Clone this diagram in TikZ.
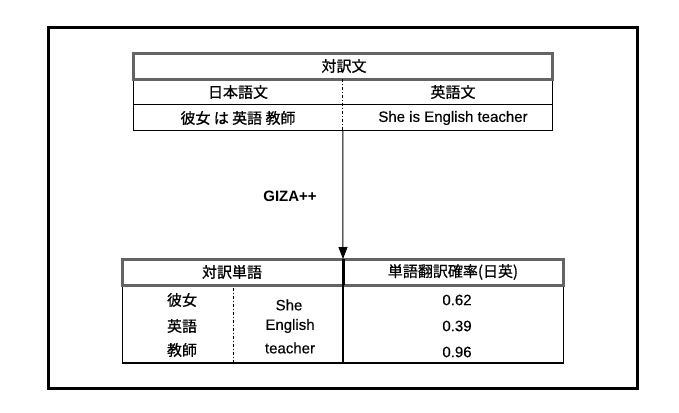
\documentclass[tikz,border=0pt]{standalone}
\usepackage{fontspec}
\setmainfont{Liberation Sans}[FakeBold=0.3]
\newfontfamily\jp{Noto Sans CJK JP}[FakeBold=0.8]
\newfontfamily\gizafont{Liberation Sans Bold}
\usetikzlibrary{arrows.meta}
\definecolor{hdgray}{HTML}{646464}
\begin{document}
\begin{tikzpicture}[x=1pt,y=-1pt,
  txt/.style={inner sep=0pt,font=\fontsize{15}{18}\selectfont},
  jtxt/.style={inner sep=0pt,font=\fontsize{15}{18}\selectfont\jp},
  headbox/.style={draw=hdgray,line width=3pt,inner sep=0pt,outer sep=0pt},
  bodybox/.style={draw=black,line width=1.2pt,inner sep=0pt,outer sep=0pt},
  divdash/.style={line width=1pt,dash pattern=on 3pt off 2pt on 1pt off 2pt},
  frame/.style={draw=black,line width=3pt}]
\useasboundingbox (0,0) rectangle (679,412);
\draw[frame] (48.3,27.7) rectangle (637.3,388.7);
% top table
\node[bodybox,minimum width=419pt,minimum height=51.7pt] (toptab) at (342.8,104.85) {};
\node[headbox,minimum width=419pt,minimum height=25.7pt] (tophead) at (342.8,66.15) {};
\draw[line width=1.2pt] (toptab.west) -- (toptab.east);
\coordinate (tdtop) at (342.8,79);
\draw[divdash] (tdtop) -- (toptab.south);
\node[jtxt] (t0) at (344,66) {対訳文};
\node[jtxt] (t1) at (238,92) {日本語文};
\node[jtxt] (t2) at (453,92) {英語文};
\node[jtxt] (t3) at (238,118) {彼女 は 英語 教師};
\node[txt] (t4) at (453,118) {She is English teacher};
% bottom table
\node[bodybox,minimum width=440.6pt,minimum height=77.7pt] (bottab) at (343,324.15) {};
\node[headbox,minimum width=440.6pt,minimum height=26.3pt] (bothead) at (343,272.15) {};
\draw[line width=3pt] (bothead.north) -- (bothead.south);
\draw[line width=1.2pt] (bothead.south) -- (bottab.south);
\coordinate (bdtop) at (233.3,288);
\coordinate (bdbot) at (233.3,362);
\draw[divdash] (bdtop) -- (bdbot);
\node[jtxt] (b0) at (232,272) {対訳単語};
\node[jtxt] (b1) at (453,272) {単語翻訳確率(日英)};
\node[jtxt] (j1) at (182,300) {彼女};
\node[jtxt] (j2) at (182,326) {英語};
\node[jtxt] (j3) at (182,350) {教師};
\node[txt] (e1) at (289,305) {She};
\node[txt] (e2) at (290,326) {English};
\node[txt] (e3) at (290,348) {teacher};
\node[txt] (p1) at (457,300) {0.62};
\node[txt] (p2) at (457,326) {0.39};
\node[txt] (p3) at (457,352) {0.96};
% arrow
\draw[line width=1pt,-{Triangle[width=9pt,length=12pt]}] (toptab.south) -- (bothead.north);
\node[inner sep=0pt,font=\fontsize{15}{18}\selectfont\gizafont] (giza) at (290,196) {GIZA++};
\end{tikzpicture}
\end{document}
